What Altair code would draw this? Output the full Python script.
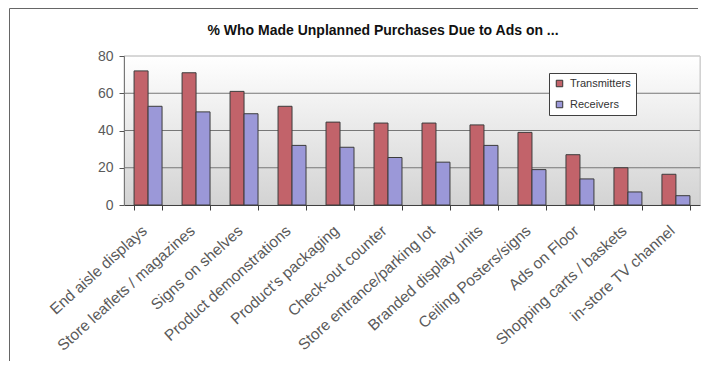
import altair as alt
import pandas as pd

categories = [
    "End aisle displays", "Store leaflets / magazines", "Signs on shelves",
    "Product demonstrations", "Product's packaging", "Check-out counter",
    "Store entrance/parking lot", "Branded display units", "Ceiling Posters/signs",
    "Ads on Floor", "Shopping carts / baskets", "in-store TV channel",
]
transmitters = [72, 71, 61, 53, 44.5, 44, 44, 43, 39, 27, 20, 16.5]
receivers = [53, 50, 49, 32, 31, 25.5, 23, 32, 19, 14, 7, 5]
series = ["Transmitters", "Receivers"]
colors = ["#c2636a", "#9b98d8"]
y_ticks = [0, 20, 40, 60, 80]
grid_values = [20, 40, 60, 80]
title_text = "% Who Made Unplanned Purchases Due to Ads on ..."

rows = []
for c, t, r in zip(categories, transmitters, receivers):
    rows.append({"cat": c, "series": series[0], "value": t})
    rows.append({"cat": c, "series": series[1], "value": r})
df = pd.DataFrame(rows)

W, H = 576, 149
PAD = {"left": 116, "top": 48, "right": 1, "bottom": 156}

one = pd.DataFrame({"k": [0]})

y_scale = alt.Scale(domain=[0, 80], nice=False)
y_axis = alt.Axis(values=y_ticks, labelFont="Liberation Sans", labelFontSize=14,
                  labelColor="#5a5a5a", tickSize=5, tickColor="#555555",
                  domainColor="#777777", labelPadding=6, grid=False, zindex=1)

background = alt.Chart(one).mark_rect(
    color=alt.Gradient(gradient="linear", x1=0, x2=0, y1=0, y2=1,
                       stops=[alt.GradientStop(offset=0, color="#ffffff"),
                              alt.GradientStop(offset=1, color="#d3d3d3")]),
    stroke="#c8c8c8", strokeWidth=1,
).encode(x=alt.value(0), x2=alt.value(W), y=alt.value(0), y2=alt.value(H))

grid = alt.Chart(pd.DataFrame({"v": grid_values})).mark_rule(strokeWidth=1).encode(
    y=alt.Y("v:Q", title=None, scale=y_scale, axis=y_axis),
    color=alt.condition("datum.v >= 80", alt.value("#cccccc"), alt.value("#777777")),
)

bars = alt.Chart(df).mark_bar(stroke="#3c3c3c", strokeWidth=1).encode(
    x=alt.X("cat:N", sort=categories, title=None,
            scale=alt.Scale(paddingInner=0.417, paddingOuter=0.21),
            axis=alt.Axis(labelAngle=-42, labelAlign="right", labelBaseline="middle",
                          labelFont="Liberation Sans", labelFontSize=15.5,
                          labelColor="#5a5a5a", labelPadding=18, labelOffset=-4,
                          tickBand="extent", tickSize=5, tickColor="#404040",
                          domainColor="#404040", labelLimit=400, labelOverlap=False,
                          zindex=1)),
    xOffset=alt.XOffset("series:N", sort=series, scale=alt.Scale(paddingInner=0, paddingOuter=0)),
    y=alt.Y("value:Q", title=None, scale=y_scale, axis=y_axis),
    color=alt.Color("series:N", sort=series,
                    scale=alt.Scale(domain=series, range=colors),
                    legend=alt.Legend(title=None, orient="none", legendX=425, legendY=17,
                                      fillColor="white", strokeColor="#404040", padding=5,
                                      symbolType="square", symbolSize=42,
                                      symbolStrokeColor="#333333", symbolStrokeWidth=1,
                                      labelFont="Liberation Sans", labelFontSize=11,
                                      labelColor="#333333", rowPadding=9, labelOffset=5)),
)

title = alt.Chart(one).mark_text(
    text=title_text, font="Liberation Sans", fontSize=14, fontWeight="bold",
    color="#111111", align="center", baseline="middle",
).encode(x=alt.value(W / 2 - 29), y=alt.value(-25))

frame_left = alt.Chart(one).mark_rule(color="#666666", strokeWidth=1).encode(
    x=alt.value(-114.5), y=alt.value(-47.5), y2=alt.value(H + PAD["bottom"]))
frame_top = alt.Chart(one).mark_rule(color="#666666", strokeWidth=1).encode(
    x=alt.value(-114.5), x2=alt.value(W - 2), y=alt.value(-47.5))

chart = alt.layer(background, grid, bars, title, frame_left, frame_top).properties(
    width=W, height=H,
    autosize=alt.AutoSizeParams(type="none"),
    padding=PAD,
).configure_view(stroke=None).configure(background="white")

chart.save("out.html", embed_options={"renderer": "svg", "actions": False})
